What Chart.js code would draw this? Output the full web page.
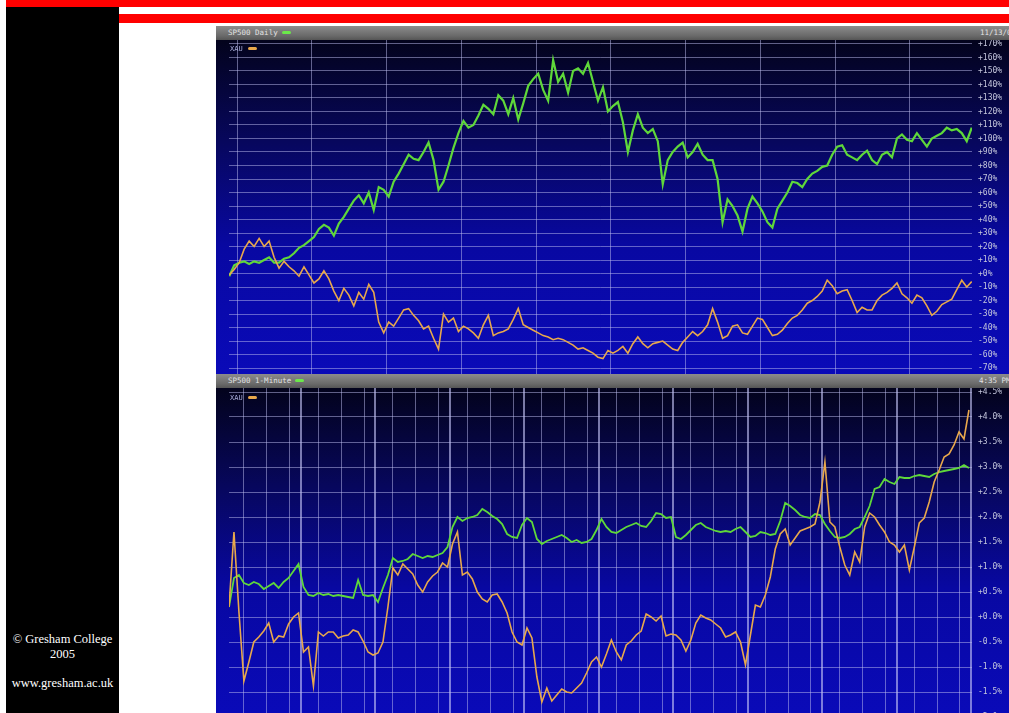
<!DOCTYPE html>
<html>
<head>
<meta charset="utf-8">
<script src="https://cdn.jsdelivr.net/npm/chart.js@4.4.0/dist/chart.umd.min.js"></script>
<style>
body { margin: 0; width: 1009px; height: 713px; overflow: hidden; background: #fff; position: relative; }
.abs { position: absolute; }
.redtop { left: 6px; top: 0; width: 1003px; height: 7px; background: #ff0000; }
.redbar { left: 119px; top: 14px; width: 890px; height: 9px; background: #ff0000; }
.side { left: 6px; top: 7px; width: 113px; height: 706px; background: #000; }
.foot { left: 6px; width: 113px; text-align: center; color: #fff; font-family: "Liberation Serif", "DejaVu Serif", serif; font-size: 12.5px; line-height: 14px; }
.head { left: 216px; width: 793px; height: 14px; background: linear-gradient(#8c8c8c, #6a6a6a 70%, #555); }
.htxt { position: absolute; top: 2px; font-family: "DejaVu Sans Mono", monospace; font-size: 7.5px; line-height: 10px; color: #e2e2e2; white-space: nowrap; }
.sw { display: inline-block; width: 9px; height: 3px; border-radius: 2px; vertical-align: middle; margin-left: 4px; margin-top: -1px; }
.leg { position: absolute; font-family: "DejaVu Sans Mono", monospace; font-size: 7px; line-height: 8px; color: #a8acd8; white-space: nowrap; }
canvas { position: absolute; left: 216px; }
</style>
</head>
<body>
<div class="abs redtop"></div>
<div class="abs side"></div>
<div class="abs redbar"></div>
<div class="abs foot" style="top:632px">© Gresham College</div>
<div class="abs foot" style="top:647px">2005</div>
<div class="abs foot" style="top:676px">www.gresham.ac.uk</div>

<div class="abs head" style="top:26px">
  <span class="htxt" style="left:12px">SP500 Daily<span class="sw" style="background:#6be84a"></span></span>
  <span class="htxt" style="left:764px">11/13/05</span>
</div>
<canvas id="daily" width="793" height="334" style="top:40px;width:793px;height:334px"></canvas>
<div class="leg" style="left:230px;top:45px">XAU<span class="sw" style="background:#e8a84c;margin-left:5px"></span></div>

<div class="abs head" style="top:374px">
  <span class="htxt" style="left:12px">SP500 1-Minute<span class="sw" style="background:#6be84a"></span></span>
  <span class="htxt" style="left:763px">4:35 PM</span>
</div>
<canvas id="minute" width="793" height="325" style="top:388px;width:793px;height:325px"></canvas>
<div class="leg" style="left:230px;top:394px">XAU<span class="sw" style="background:#e8a84c;margin-left:5px"></span></div>

<script>
// daily panel: one sample every 1/15 year starting late 1995, % change from start
const dailyStart = 1995.893
const dailyStep = 1 / 15
const dailyYearTicks = [1996, 1997, 1998, 1999, 2000, 2001, 2002, 2003, 2004, 2005]
const dailyPctTicks = [-70, -60, -50, -40, -30, -20, -10, 0, 10, 20, 30, 40, 50, 60, 70, 80, 90, 100, 110, 120, 130, 140, 150, 160, 170]

const spxDaily = [
  -2, 6, 8, 9, 7, 9, 8, 10, 12, 8,
  8, 11, 12, 15, 19, 21, 24, 27, 33, 36,
  34, 28, 37, 42, 48, 54, 58, 52, 60, 47,
  64, 62, 57, 68, 74, 81, 88, 85, 84, 90,
  97, 84, 62, 68, 80, 93, 104, 113, 108, 110,
  117, 125, 122, 118, 132, 128, 118, 130, 114, 126,
  139, 144, 148, 136, 128, 158, 142, 148, 134, 150,
  152, 148, 156, 142, 128, 138, 120, 124, 127, 112,
  90, 106, 118, 108, 104, 107, 98, 66, 84, 90,
  94, 97, 86, 90, 96, 88, 84, 84, 70, 38,
  55, 50, 43, 31, 48, 57, 52, 46, 38, 34,
  48, 54, 60, 68, 67, 64, 70, 74, 76, 79,
  80, 88, 94, 95, 88, 86, 84, 88, 91, 84,
  81, 88, 90, 86, 100, 103, 99, 98, 104, 99,
  94, 100, 102, 104, 108, 106, 107, 104, 98, 108
]

const xauDaily = [
  -1, 3, 8, 18, 24, 20, 26, 20, 24, 12,
  4, 9, 5, 2, -2, 5, -1, -7, -4, 2,
  -4, -13, -20, -11, -16, -24, -14, -19, -8, -14,
  -36, -44, -36, -39, -33, -27, -26, -31, -35, -41,
  -39, -48, -56, -30, -36, -33, -43, -39, -41, -44,
  -48, -38, -31, -46, -44, -43, -41, -34, -26, -38,
  -40, -42, -44, -46, -47, -49, -48, -49, -51, -53,
  -56, -55, -57, -59, -62, -63, -57, -59, -57, -54,
  -59, -52, -47, -52, -55, -52, -51, -50, -53, -56,
  -57, -51, -47, -43, -46, -43, -38, -26, -36, -48,
  -46, -39, -38, -44, -45, -39, -33, -34, -40, -46,
  -45, -42, -37, -33, -31, -27, -22, -20, -17, -13,
  -5, -9, -15, -13, -12, -20, -29, -25, -27, -27,
  -20, -16, -14, -11, -7, -15, -18, -22, -16, -18,
  -24, -31, -28, -23, -21, -19, -12, -5, -10, -6
]

// intraday panel: ten sessions of 390 trading minutes, one sample every 26 minutes
const minuteStart = 13
const minuteStep = 26
const sessionMinutes = 390
const sessionCount = 10
const sessionMarks = [0, 90, 210, 330]   // 9:30 open, 11:00, 13:00, 15:00
const minutePctTicks = [-2.0, -1.5, -1.0, -0.5, 0.0, 0.5, 1.0, 1.5, 2.0, 2.5, 3.0, 3.5, 4.0, 4.5]

const spxMinute = [
  0.2, 0.78, 0.84, 0.68, 0.64, 0.7, 0.66, 0.56, 0.62, 0.68,
  0.58, 0.7, 0.78, 0.92, 1.06, 0.6, 0.44, 0.42, 0.48, 0.44,
  0.46, 0.42, 0.44, 0.42, 0.4, 0.38, 0.74, 0.44, 0.42, 0.44,
  0.3, 0.58, 0.84, 1.18, 1.1, 1.12, 1.16, 1.26, 1.22, 1.18,
  1.22, 1.2, 1.24, 1.28, 1.4, 1.8, 2.0, 1.92, 1.98, 2.0,
  2.04, 2.16, 2.1, 2.02, 1.96, 1.86, 1.66, 1.6, 1.58, 1.84,
  1.98, 1.9, 1.56, 1.46, 1.52, 1.56, 1.6, 1.64, 1.58, 1.5,
  1.54, 1.48, 1.5, 1.56, 1.74, 1.96, 1.8, 1.7, 1.68, 1.74,
  1.8, 1.84, 1.88, 1.82, 1.8, 1.92, 2.08, 2.06, 1.98, 2.0,
  1.6, 1.56, 1.64, 1.74, 1.84, 1.88, 1.8, 1.76, 1.72, 1.7,
  1.72, 1.7, 1.76, 1.8, 1.7, 1.6, 1.62, 1.7, 1.68, 1.64,
  1.66, 1.92, 2.28, 2.22, 2.14, 2.04, 2.0, 1.98, 2.06, 2.04,
  1.86, 1.72, 1.6, 1.58, 1.6, 1.66, 1.76, 1.8, 2.0, 2.22,
  2.56, 2.6, 2.76, 2.7, 2.66, 2.8, 2.78, 2.78, 2.82, 2.84,
  2.82, 2.8, 2.86, 2.9, 2.92, 2.94, 2.96, 2.98, 3.04, 2.98
]

const xauMinute = [
  0.2, 1.7, 0.1, -1.28, -0.9, -0.5, -0.4, -0.28, -0.12, -0.5,
  -0.38, -0.4, -0.14, 0.0, 0.08, -0.7, -0.6, -1.38, -0.3, -0.38,
  -0.3, -0.3, -0.42, -0.38, -0.36, -0.26, -0.3, -0.48, -0.7, -0.76,
  -0.72, -0.5, 0.2, 0.98, 0.84, 1.06, 0.96, 0.86, 0.64, 0.5,
  0.7, 0.82, 0.9, 1.08, 1.0, 1.46, 1.7, 0.84, 0.9, 0.76,
  0.5, 0.36, 0.3, 0.44, 0.46, 0.3, 0.08, -0.3, -0.5, -0.56,
  -0.22, -0.42, -1.2, -1.7, -1.42, -1.68, -1.56, -1.44, -1.5, -1.52,
  -1.42, -1.32, -1.12, -0.9, -0.8, -1.0, -0.74, -0.46, -0.7, -0.86,
  -0.56, -0.48, -0.36, -0.28, 0.06, 0.0, -0.08, 0.02, -0.38, -0.34,
  -0.36, -0.46, -0.68, -0.46, -0.12, 0.04, -0.02, -0.06, -0.14, -0.22,
  -0.4, -0.36, -0.3, -0.5, -0.96, -0.36, 0.24, 0.2, 0.44, 0.8,
  1.36, 1.66, 1.76, 1.44, 1.58, 1.72, 1.76, 1.8, 1.86, 2.3,
  3.1, 1.9, 1.8, 1.4, 1.04, 0.84, 1.3, 1.1, 1.8, 2.08,
  2.0, 1.84, 1.7, 1.5, 1.44, 1.3, 1.44, 0.94, 1.4, 1.88,
  1.98, 2.3, 2.7, 2.94, 3.2, 3.26, 3.44, 3.7, 3.56, 4.14
]

const green = '#5fd83a'
const orange = '#e8a84c'
const gridColor = 'rgba(190,190,240,0.5)'
const labelColor = '#c4c6dc'

// dark navy to bright blue, like the trading screen
const panelBackground = {
  id: 'panelBackground',
  beforeDraw(chart) {
    const ctx = chart.ctx
    const g = ctx.createLinearGradient(0, 0, 0, chart.height)
    g.addColorStop(0, '#03031c')
    g.addColorStop(0.3, '#07075c')
    g.addColorStop(0.62, '#0808a2')
    g.addColorStop(1, '#0a0ab8')
    ctx.save()
    ctx.fillStyle = g
    ctx.fillRect(0, 0, chart.width, chart.height)
    ctx.restore()
  }
}

function series(values, start, step, color, width, order) {
  return {
    data: values.map((v, i) => ({ x: start + i * step, y: v })),
    borderColor: color,
    borderWidth: width,
    pointRadius: 0,
    tension: 0,
    fill: false,
    order: order
  }
}

function pctAxis(min, max, ticks, fmt) {
  return {
    position: 'right',
    min: min,
    max: max,
    afterBuildTicks: a => { a.ticks = ticks.map(v => ({ value: v })) },
    afterFit: a => { a.width = 37; a.paddingTop = 0; a.paddingBottom = 0 },
    border: { display: false },
    grid: { color: gridColor, lineWidth: 1, drawTicks: false },
    ticks: {
      color: labelColor,
      padding: 6,
      font: { family: 'DejaVu Sans Mono', size: 8 },
      callback: fmt
    }
  }
}

const baseOptions = {
  responsive: false,
  animation: false,
  layout: { padding: { left: 13, right: 0, top: 0, bottom: 0 } },
  plugins: { legend: { display: false }, tooltip: { enabled: false } }
}

new Chart('daily', {
  type: 'line',
  data: {
    datasets: [
      series(xauDaily, dailyStart, dailyStep, orange, 1.6, 1),
      series(spxDaily, dailyStart, dailyStep, green, 2.2, 2)
    ]
  },
  options: {
    ...baseOptions,
    scales: {
      x: {
        type: 'linear',
        min: 1995.89,
        max: 2005.83,
        afterBuildTicks: a => { a.ticks = dailyYearTicks.map(v => ({ value: v })) },
        afterFit: a => { a.height = 0; a.paddingLeft = 0; a.paddingRight = 0 },
        border: { display: false },
        grid: { color: gridColor, lineWidth: 1, drawTicks: false },
        ticks: { display: false }
      },
      y: pctAxis(-74.44, 172.96, dailyPctTicks,
        v => (v > 0 ? '+' + v : v === 0 ? '+0' : String(v)) + '%')
    }
  },
  plugins: [panelBackground]
})

let minuteTicks = []
for (let s = 0; s <= sessionCount; s++) {
  sessionMarks.forEach(m => minuteTicks.push(s * sessionMinutes + m))
}

new Chart('minute', {
  type: 'line',
  data: {
    datasets: [
      series(xauMinute, minuteStart, minuteStep, orange, 1.6, 1),
      series(spxMinute, minuteStart, minuteStep, green, 1.8, 2)
    ]
  },
  options: {
    ...baseOptions,
    scales: {
      x: {
        type: 'linear',
        min: 13,
        max: 3903,
        afterBuildTicks: a => { a.ticks = minuteTicks.filter(v => v >= 13 && v <= 3903).map(v => ({ value: v })) },
        afterFit: a => { a.height = 0; a.paddingLeft = 0; a.paddingRight = 0 },
        border: { display: false },
        grid: {
          drawTicks: false,
          color: c => (c.tick && c.tick.value % sessionMinutes === 0) ? 'rgba(195,195,245,0.62)' : gridColor,
          lineWidth: c => (c.tick && c.tick.value % sessionMinutes === 0) ? 2 : 1
        },
        ticks: { display: false }
      },
      y: pctAxis(-1.92, 4.58, minutePctTicks,
        v => (v >= 0 ? '+' : '') + v.toFixed(1) + '%')
    }
  },
  plugins: [panelBackground]
})
</script>
</body>
</html>
